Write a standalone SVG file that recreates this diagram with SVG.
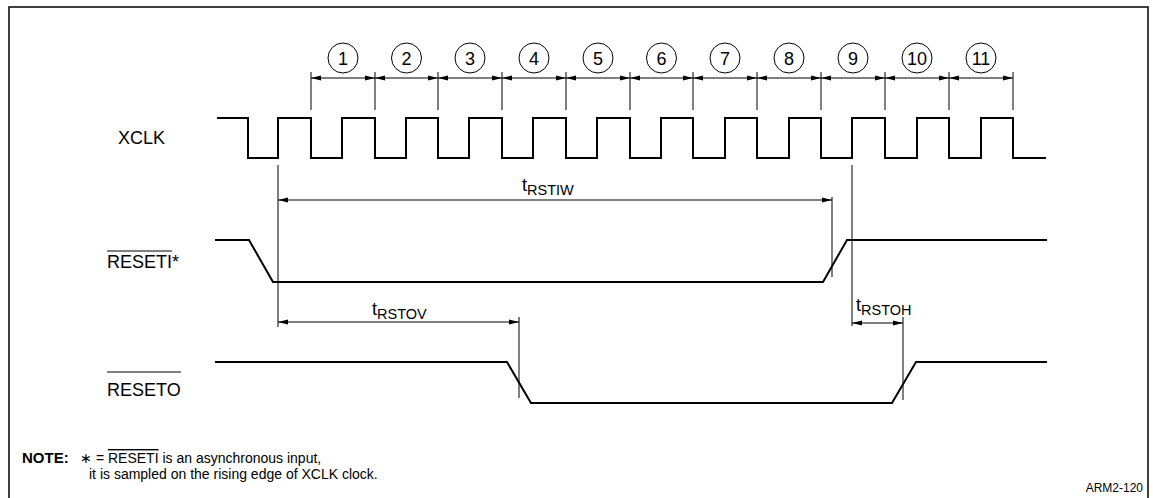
<svg xmlns="http://www.w3.org/2000/svg" width="1153" height="498" viewBox="0 0 1153 498">
<style>
.sig{fill:none;stroke:#000;stroke-width:2;stroke-linejoin:miter}
.dim{fill:none;stroke:#000;stroke-width:1}
.arr{fill:none;stroke:#000;stroke-width:1;marker-start:url(#ah);marker-end:url(#ah)}
.lbl{font-family:"Liberation Sans",Arial,sans-serif;font-size:18px;fill:#000}
.num{font-family:"Liberation Sans",Arial,sans-serif;font-size:18px;fill:#000;text-anchor:middle}
.sub{font-size:14.5px}
.note{font-family:"Liberation Sans",Arial,sans-serif;font-size:14px;fill:#000}
.ol{text-decoration:overline}
</style>
<defs>
<marker id="ah" viewBox="0 0 10 6" refX="10" refY="3" markerWidth="10" markerHeight="6" markerUnits="userSpaceOnUse" orient="auto-start-reverse">
<path d="M0,0.5 L10,3 L0,5.5 Z" fill="#000"/>
</marker>
</defs>
<rect width="1153" height="498" fill="#fff"/>
<path d="M9,498 V7 H1148 V498" fill="none" stroke="#000" stroke-width="1.5"/>

<g id="labels">
<text class="lbl" x="118" y="144">XCLK</text>
<text class="lbl" x="107" y="268">RESETI*</text>
<line x1="107" y1="251" x2="172" y2="251" stroke="#000" stroke-width="1"/>
<text class="lbl" x="107" y="396">RESETO</text>
<line x1="107" y1="372" x2="181" y2="372" stroke="#000" stroke-width="1"/>
</g>

<g id="xclk">
<path class="sig" d="M217,118 H248 V158 H278 V118 H311 V158 H342 V118 H375 V158 H406 V118 H438 V158 H469 V118 H502 V158 H533 V118 H566 V158 H597 V118 H630 V158 H661 V118 H693 V158 H725 V118 H757 V158 H789 V118 H821 V158 H852 V118 H885 V158 H917 V118 H949 V158 H981 V118 H1013 V158 H1046"/>
</g>

<g id="reseti">
<path class="sig" d="M215,240 H249 L273,282 H823 L847,240 H1047"/>
</g>

<g id="reseto">
<path class="sig" d="M215,362 H507 L531,403 H892 L916,362 H1047"/>
</g>

<g id="cycles">
<path class="dim" d="M311,72 V110 M375,72 V110 M438,72 V110 M502,72 V110 M566,72 V110 M630,72 V110 M693,72 V110 M757,72 V110 M821,72 V110 M885,72 V110 M949,72 V110 M1013,72 V110"/>
<line class="arr" x1="311" y1="78" x2="375" y2="78"/>
<line class="arr" x1="375" y1="78" x2="438" y2="78"/>
<line class="arr" x1="438" y1="78" x2="502" y2="78"/>
<line class="arr" x1="502" y1="78" x2="566" y2="78"/>
<line class="arr" x1="566" y1="78" x2="630" y2="78"/>
<line class="arr" x1="630" y1="78" x2="693" y2="78"/>
<line class="arr" x1="693" y1="78" x2="757" y2="78"/>
<line class="arr" x1="757" y1="78" x2="821" y2="78"/>
<line class="arr" x1="821" y1="78" x2="885" y2="78"/>
<line class="arr" x1="885" y1="78" x2="949" y2="78"/>
<line class="arr" x1="949" y1="78" x2="1013" y2="78"/>
<g fill="none" stroke="#000" stroke-width="1">
<circle cx="343" cy="58" r="15"/><circle cx="406.5" cy="58" r="15"/><circle cx="470" cy="58" r="15"/><circle cx="534" cy="58" r="15"/><circle cx="598" cy="58" r="15"/><circle cx="661.5" cy="58" r="15"/><circle cx="725" cy="58" r="15"/><circle cx="789" cy="58" r="15"/><circle cx="853" cy="58" r="15"/><circle cx="917" cy="58" r="15"/><circle cx="981" cy="58" r="15"/>
</g>
<text class="num" x="343" y="64.5">1</text><text class="num" x="406.5" y="64.5">2</text><text class="num" x="470" y="64.5">3</text><text class="num" x="534" y="64.5">4</text><text class="num" x="598" y="64.5">5</text><text class="num" x="661.5" y="64.5">6</text><text class="num" x="725" y="64.5">7</text><text class="num" x="789" y="64.5">8</text><text class="num" x="853" y="64.5">9</text><text class="num" x="917" y="64.5">10</text><text class="num" x="981" y="64.5">11</text>
</g>

<g id="timing">
<path class="dim" d="M278,165 V327 M852,165 V326 M832,197 V277 M519,317 V398 M903,317 V400"/>
<line class="arr" x1="278" y1="200" x2="832" y2="200"/>
<line class="arr" x1="278" y1="322" x2="519" y2="322"/>
<line class="arr" x1="852" y1="323" x2="903" y2="323"/>
<text class="lbl" x="522" y="191">t<tspan class="sub" dy="4">RSTIW</tspan></text>
<text class="lbl" x="372" y="315">t<tspan class="sub" dy="4">RSTOV</tspan></text>
<text class="lbl" x="856" y="311">t<tspan class="sub" dy="4">RSTOH</tspan></text>
</g>

<g id="note">
<text class="note" x="22" y="463"><tspan font-weight="bold" font-size="15">NOTE:</tspan><tspan x="80">∗ = <tspan class="ol">RESETI</tspan> is an asynchronous input,</tspan></text>
<text class="note" x="89" y="479">it is sampled on the rising edge of XCLK clock.</text>
<text class="note" x="1143" y="492" style="font-size:12px;text-anchor:end">ARM2-120</text>
</g>
</svg>
